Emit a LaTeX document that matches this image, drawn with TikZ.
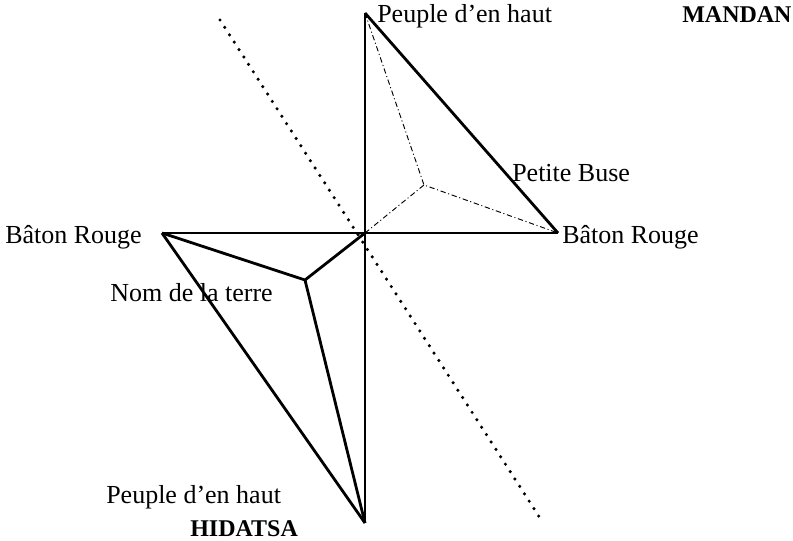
\documentclass[tikz,border=0pt]{standalone}
\usepackage{fontspec}
\setmainfont{Liberation Serif}
\begin{document}
\begin{tikzpicture}[x=0.75pt,y=-0.75pt,
  thickline/.style={line width=2.1pt},
  dashdot/.style={line width=0.7pt, dash pattern=on 4pt off 2pt on 0.8pt off 2pt},
  dotline/.style={line width=2.6pt, line cap=round, dash pattern=on 0pt off 6.6pt},
  lbl/.style={anchor=base west, inner sep=0pt, font=\fontsize{19.5}{23}\selectfont},
  blbl/.style={anchor=base west, inner sep=0pt, font=\fontsize{18}{22}\selectfont\bfseries}]
\useasboundingbox (0,0) rectangle (793,541);
\coordinate (C) at (365,233);
\coordinate (T) at (365,13);
\coordinate (R) at (558,233);
\coordinate (L) at (162,233);
\coordinate (B) at (365,523);
\coordinate (U) at (424,185);
\coordinate (D) at (305,280);
\coordinate (d1) at (220,20);
\coordinate (d2) at (540,518);
% dotted divider
\draw[dotline] (d1) -- (d2);
% dash-dot inner lines
\draw[dashdot] (T) -- (U) -- (R);
\draw[dashdot] (C) -- (U);
% thick lines
\draw[thickline] (T) -- (B);
\draw[thickline] (L) -- (R);
\draw[thickline] (T) -- (R);
\draw[thickline] (L) -- (B);
\draw[thickline] (L) -- (D) -- (C);
\draw[thickline] (D) -- (B);
% labels
\node[lbl] (pht) at (377,23) {Peuple d’en haut};
\node[blbl] (mandan) at (682,23) {MANDAN};
\node[lbl] (pb) at (512,182) {Petite Buse};
\node[lbl] (brr) at (562,244) {Bâton Rouge};
\node[lbl] (brl) at (5,244) {Bâton Rouge};
\node[lbl] (nom) at (110,302) {Nom de la terre};
\node[lbl] (phb) at (106,504) {Peuple d’en haut};
\node[blbl] (hid) at (190,537) {HIDATSA};
\end{tikzpicture}
\end{document}
